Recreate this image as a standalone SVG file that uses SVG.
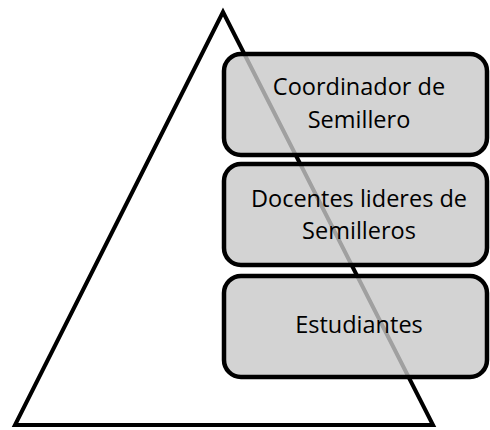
<svg xmlns="http://www.w3.org/2000/svg" width="490" height="430" viewBox="0 0 490 430">
<style>
.box{fill:#c8c8c8;fill-opacity:0.8;stroke:#000;stroke-width:4.5}
.lbl{font-family:"Open Sans","Liberation Sans",Arial,sans-serif;font-size:23.5px;fill:#000;text-anchor:middle}
</style>
<rect width="490" height="430" fill="#fff"/>
<g id="pyramid">
<polygon points="223,12 15,425 433,425" fill="#fff" stroke="#000" stroke-width="4" stroke-linejoin="miter"/>
</g>
<g id="coordinador">
<rect class="box" x="224" y="54" width="263" height="101" rx="17"/>
<text class="lbl" x="359" y="95">Coordinador de</text>
<text class="lbl" x="359" y="128">Semillero</text>
</g>
<g id="docentes">
<rect class="box" x="224" y="164" width="263" height="101" rx="17"/>
<text class="lbl" x="359" y="207">Docentes lideres de</text>
<text class="lbl" x="359" y="239">Semilleros</text>
</g>
<g id="estudiantes">
<rect class="box" x="224" y="276" width="263" height="101" rx="17"/>
<text class="lbl" x="359" y="333">Estudiantes</text>
</g>
<g id="connectors"/>
</svg>
